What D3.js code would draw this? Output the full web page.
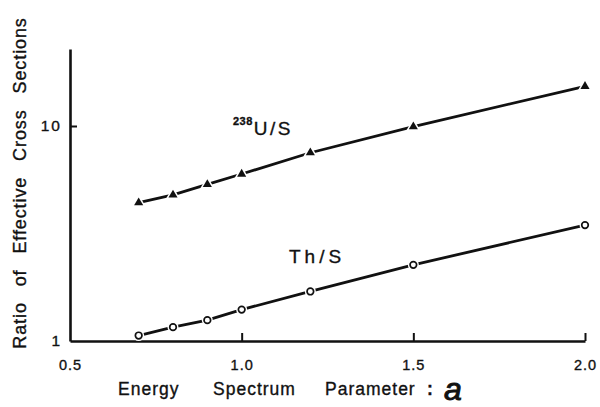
<!DOCTYPE html>
<html>
<head>
<meta charset="utf-8">
<script src="https://cdn.jsdelivr.net/npm/d3@7"></script>
<style>
  html, body { margin: 0; padding: 0; background: #fff; }
  svg { display: block; font-family: "Liberation Sans", Arial, sans-serif; }
  svg text { stroke: #111; stroke-width: 0.35px; }
</style>
</head>
<body>
<svg id="chart" width="600" height="407"></svg>
<script>
// Energy spectrum parameter a
const alphaValues = [0.7, 0.8, 0.9, 1.0, 1.2, 1.5, 2.0];
// Ratio of effective cross sections, 238U to S
const uRatio = [4.40, 4.78, 5.35, 5.98, 7.51, 9.93, 15.3];
// Ratio of effective cross sections, Th to S
const thRatio = [1.06, 1.16, 1.25, 1.40, 1.70, 2.26, 3.46];
// Axis ticks
const xTicks = [0.5, 1.0, 1.5, 2.0];
const yTicks = [1, 10];

const svg = d3.select("#chart");
const ink = "#111";

const x = d3.scaleLinear().domain([0.5, 2.0]).range([70, 585]);
// log axis: one decade spans 215px, axis runs a bit above the 10 tick
const y = d3.scaleLog().domain([1, 22.8]).range([341, 341 - 215 * Math.log10(22.8)]);

// x axis
const gx = svg.append("g")
  .attr("transform", `translate(0,${y(1)})`)
  .call(d3.axisBottom(x).tickValues(xTicks).tickSize(-8).tickSizeOuter(0)
    .tickPadding(19).tickFormat(d3.format(".1f")));
gx.select(".domain").attr("stroke", ink).attr("stroke-width", 2.6);
gx.selectAll(".tick line").attr("stroke", ink).attr("stroke-width", 2)
  .attr("display", d => d === 0.5 ? "none" : null);
gx.selectAll(".tick text").attr("fill", ink).attr("font-size", 14.5)
  .attr("letter-spacing", 1)
  .attr("font-family", "'Liberation Sans', Arial, sans-serif");

// y axis
const gy = svg.append("g")
  .attr("transform", `translate(${x(0.5)},0)`)
  .call(d3.axisLeft(y).tickValues(yTicks).tickSize(-7).tickSizeOuter(0)
    .tickPadding(8).tickFormat(d3.format("d")));
gy.select(".domain").attr("stroke", ink).attr("stroke-width", 2.6);
gy.selectAll(".tick line").attr("stroke", ink).attr("stroke-width", 2)
  .attr("display", d => d === 1 ? "none" : null);
gy.selectAll(".tick text").attr("fill", ink).attr("font-size", 15.5)
  .attr("letter-spacing", 2)
  .attr("font-family", "'Liberation Sans', Arial, sans-serif");

// axis titles
svg.append("text")
  .attr("transform", "translate(25.5,183) rotate(-90)")
  .attr("text-anchor", "middle")
  .attr("font-size", 18)
  .attr("letter-spacing", 0.9)
  .attr("word-spacing", 10)
  .attr("fill", ink)
  .text("Ratio of Effective Cross Sections");

const xTitle = svg.append("text")
  .attr("y", 395)
  .attr("font-size", 17.5)
  .attr("letter-spacing", 1)
  .attr("fill", ink);
xTitle.append("tspan").attr("x", 118).text("Energy");
xTitle.append("tspan").attr("x", 213).text("Spectrum");
xTitle.append("tspan").attr("x", 325).text("Parameter");
xTitle.append("tspan").attr("x", 427).attr("font-weight", "bold").text(":");
xTitle.append("tspan").attr("x", 444).attr("font-size", 32)
  .attr("font-style", "italic").attr("stroke-width", 1).attr("dy", 5).text("a");

// series
const line = d3.line().x(d => x(d[0])).y(d => y(d[1]));
const uPts = alphaValues.map((a, i) => [a, uRatio[i]]);
const thPts = alphaValues.map((a, i) => [a, thRatio[i]]);

[uPts, thPts].forEach(pts => {
  svg.append("path").datum(pts)
    .attr("d", line)
    .attr("fill", "none")
    .attr("stroke", ink)
    .attr("stroke-width", 2.8)
    .attr("stroke-linecap", "butt");
});

// filled triangles with a white halo that opens a small gap in the line
svg.append("g").selectAll("path").data(uPts).join("path")
  .attr("transform", d => `translate(${x(d[0])},${y(d[1])})`)
  .attr("d", d3.symbol(d3.symbolTriangle, 36))
  .attr("fill", ink)
  .attr("stroke", "#fff")
  .attr("stroke-width", 3)
  .attr("paint-order", "stroke");

// open circles
const thG = svg.append("g");
thG.selectAll("circle.halo").data(thPts).join("circle")
  .attr("class", "halo")
  .attr("cx", d => x(d[0])).attr("cy", d => y(d[1]))
  .attr("r", 5.5).attr("fill", "#fff");
thG.selectAll("circle.mark").data(thPts).join("circle")
  .attr("class", "mark")
  .attr("cx", d => x(d[0])).attr("cy", d => y(d[1]))
  .attr("r", 3.3).attr("fill", "#fff")
  .attr("stroke", ink).attr("stroke-width", 1.7);

// series labels
const uLabel = svg.append("text").attr("x", 233).attr("y", 135).attr("fill", ink);
uLabel.append("tspan").attr("font-size", 11).attr("font-weight", "bold")
  .attr("letter-spacing", 0.5).attr("dy", -10).text("238");
uLabel.append("tspan").attr("font-size", 19).attr("letter-spacing", 2.5)
  .attr("dy", 10).attr("dx", 1).text("U/S");

svg.append("text").attr("x", 289).attr("y", 263)
  .attr("font-size", 19).attr("letter-spacing", 4).attr("fill", ink)
  .text("Th/S");
</script>
</body>
</html>
